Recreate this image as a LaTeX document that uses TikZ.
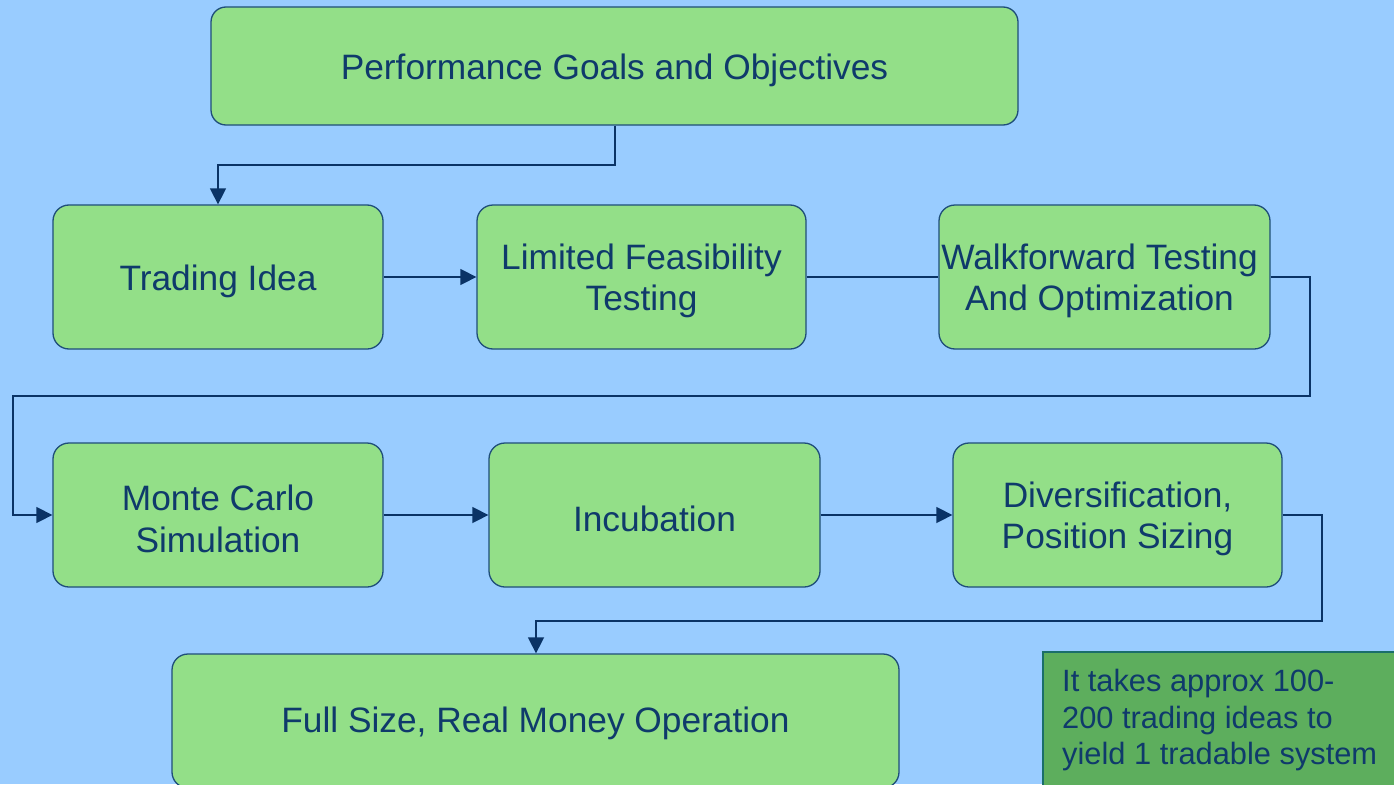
\documentclass[tikz,border=0pt]{standalone}
\usepackage{fontspec}
\setmainfont{Liberation Sans}
\usetikzlibrary{arrows.meta}
\definecolor{bg}{HTML}{99CCFF}
\definecolor{boxfill}{HTML}{93DF88}
\definecolor{boxline}{HTML}{1F4E79}
\definecolor{txt}{HTML}{0F3A6B}
\definecolor{notefill}{HTML}{5DAE5D}
\definecolor{noteline}{HTML}{1A6E6A}
\definecolor{arr}{HTML}{0A3366}
\tikzset{
  stepbox/.style={draw=boxline, line width=1.3pt, fill=boxfill, rounded corners=16pt,
    minimum width=330pt, minimum height=144pt, inner sep=0pt},
  steptext/.style={align=center, text=txt, font=\fontsize{35.3}{41.5}\selectfont,
    inner sep=0pt, yshift=-4pt},
  conn/.style={draw=arr, line width=1.5pt},
  arrconn/.style={conn, -{Triangle[length=16pt,width=16pt]}},
  notebox/.style={text=txt, font=\fontsize{30.8}{36.5}\selectfont, align=left, inner sep=0pt}
}
\begin{document}
\begin{tikzpicture}[x=1pt,y=-1pt]
\useasboundingbox (0,0) rectangle (1394,784);
\clip (0,0) rectangle (1394,784);
\fill[bg] (0,0) rectangle (1394,784);

\node[stepbox, minimum width=807pt, minimum height=118pt, rounded corners=15pt,
  label={[steptext]center:Performance Goals and Objectives}] (goals) at (614.5,66) {};
\node[stepbox, label={[steptext]center:Trading Idea}] (idea) at (218,277) {};
\node[stepbox, minimum width=329pt, label={[steptext]center:{Limited Feasibility\\Testing}}] (feas) at (641.5,277) {};
\node[stepbox, minimum width=331pt, label={[steptext, xshift=-5pt]center:{Walkforward Testing\\And Optimization}}] (walk) at (1104.5,277) {};
\node[stepbox, label={[steptext]center:{Monte Carlo\\Simulation}}] (mc) at (218,515) {};
\node[stepbox, minimum width=331pt, label={[steptext]center:Incubation}] (inc) at (654.5,515) {};
\node[stepbox, minimum width=329pt, label={[steptext]center:{Diversification,\\Position Sizing}}] (div) at (1117.5,515) {};
\node[stepbox, minimum width=727pt, minimum height=134pt,
  label={[steptext, yshift=2pt]center:Full Size, Real Money Operation}] (full) at (535.5,721) {};

\draw[noteline, line width=2pt, fill=notefill] (1043,652) rectangle (1400,790);
\node[notebox, anchor=north west] (note) at (1062,669) {It takes approx 100-\\200 trading ideas to\\yield 1 tradable system};

\coordinate (g1) at (615,165);
\draw[arrconn] (goals.south -| g1) -- (g1) -| (idea.north);
\draw[arrconn] (idea.east) -- (feas.west);
\draw[conn] (feas.east) -- (walk.west);
\coordinate (w1) at (1310,277);
\coordinate (w2) at (1310,396);
\coordinate (w3) at (13,396);
\draw[arrconn] (walk.east) -- (w1) -- (w2) -- (w3) |- (mc.west);
\draw[arrconn] (mc.east) -- (inc.west);
\draw[arrconn] (inc.east) -- (div.west);
\coordinate (d1) at (1322,515);
\coordinate (d2) at (1322,621);
\coordinate (d3) at (536,621);
\draw[arrconn] (div.east) -- (d1) -- (d2) -- (d3) -- (d3 |- full.north);
\end{tikzpicture}
\end{document}
